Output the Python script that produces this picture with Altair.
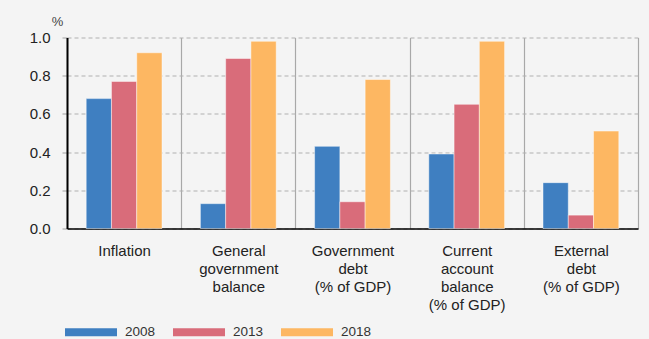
import altair as alt
import pandas as pd

categories = ["Inflation", "General|government|balance", "Government|debt|(% of GDP)",
              "Current|account|balance|(% of GDP)", "External|debt|(% of GDP)"]
years = ["2008", "2013", "2018"]
v2008 = [0.68, 0.13, 0.43, 0.39, 0.24]
v2013 = [0.77, 0.89, 0.14, 0.65, 0.07]
v2018 = [0.92, 0.98, 0.78, 0.98, 0.51]
colors = ["#3f7fc1", "#d96c7a", "#fdb762"]

rows = []
for yr, vals in zip(years, [v2008, v2013, v2018]):
    for c, v in zip(categories, vals):
        rows.append({"category": c, "year": yr, "value": v})
df = pd.DataFrame(rows)

FONT = "Liberation Sans"
swatch = "M-1,-0.15L1,-0.15L1,0.15L-1,0.15Z"

chart = alt.Chart(df).mark_bar(stroke="white", strokeOpacity=0.45, strokeWidth=1).encode(
    x=alt.X("category:N", sort=categories,
            scale=alt.Scale(paddingInner=0, paddingOuter=0),
            axis=alt.Axis(title=None, labelAngle=0, labelExpr="split(datum.label, '|')",
                          labelFont=FONT, labelFontSize=15, labelColor="#222222",
                          labelLineHeight=18, labelPadding=15, labelBaseline="top",
                          ticks=False, tickBand="extent", grid=True, gridColor="#a8a8a8",
                          gridWidth=1.2, domainColor="#000000", domainWidth=1.5)),
    xOffset=alt.XOffset("year:N", scale=alt.Scale(paddingInner=0, paddingOuter=0.76)),
    y=alt.Y("value:Q", scale=alt.Scale(domain=[0, 1]),
            axis=alt.Axis(title="%", titleAngle=0, titleX=-10, titleY=-9,
                          titleFont=FONT, titleFontSize=13, titleFontWeight="normal",
                          titleColor="#444444", titleAlign="center",
                          values=[0, 0.2, 0.4, 0.6, 0.8, 1.0], format=".1f",
                          labelFont=FONT, labelFontSize=15, labelColor="#222222",
                          labelPadding=12, tickSize=5, tickColor="#a0a0a0",
                          grid=True, gridColor="#b0b0b0", gridDash=[4, 3], gridWidth=1.2,
                          domainColor="#000000", domainWidth=2)),
    color=alt.Color("year:N", scale=alt.Scale(domain=years, range=colors),
                    legend=alt.Legend(title=None, orient="none", direction="horizontal",
                                      legendX=-2, legendY=268.5, columns=3,
                                      symbolType=swatch, symbolSize=2704,
                                      symbolStrokeWidth=0, symbolOpacity=1,
                                      labelFont=FONT, labelFontSize=13.5, labelColor="#333333",
                                      labelOffset=8, columnPadding=17)),
).properties(
    width=571, height=191,
    autosize=alt.AutoSizeParams(type="none"),
    padding={"left": 67, "top": 37.5, "right": 11, "bottom": 110},
    background="#f4f4f4",
).configure_view(stroke=None)

chart.save("out.html", embed_options={"renderer": "svg", "actions": False})
